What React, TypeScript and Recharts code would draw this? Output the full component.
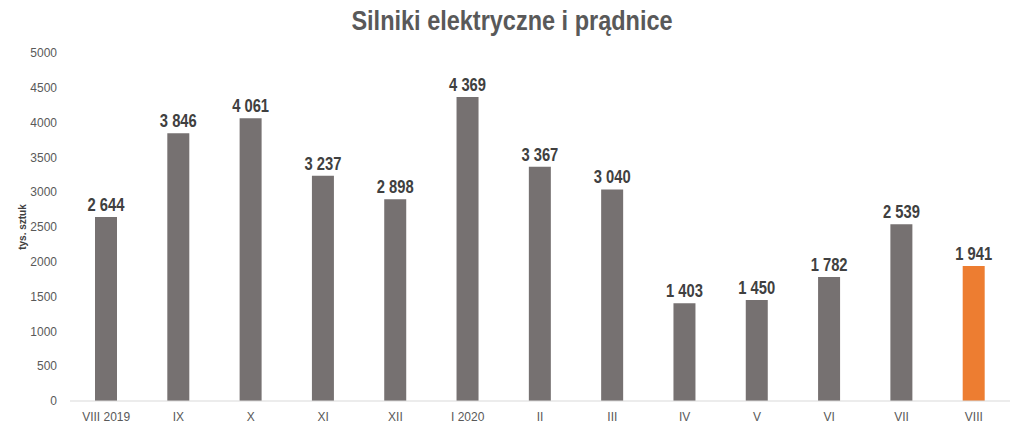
import { BarChart, Bar, XAxis, YAxis, Cell, LabelList } from 'recharts'

const months = ['VIII 2019', 'IX', 'X', 'XI', 'XII', 'I 2020', 'II', 'III', 'IV', 'V', 'VI', 'VII', 'VIII']
const output = [2644, 3846, 4061, 3237, 2898, 4369, 3367, 3040, 1403, 1450, 1782, 2539, 1941]
const yTicks = [0, 500, 1000, 1500, 2000, 2500, 3000, 3500, 4000, 4500, 5000]

const FONT = '"Liberation Sans", Arial, sans-serif'

const data = months.map((m, i) => ({ month: m, value: output[i], current: i === months.length - 1 }))

const fmt = (v: number) => v.toString().replace(/\B(?=(\d{3})+(?!\d))/g, ' ')

// narrow bold value above each bar (the original uses a condensed face)
function ValueLabel(props: any) {
  const { x, y, width, value } = props
  const cx = x + width / 2
  const by = y - 6
  return (
    <text
      transform={`translate(${cx},${by}) scale(0.82,1)`}
      textAnchor="middle"
      fill="#404040"
      fontSize={18}
      fontWeight="bold"
      fontFamily={FONT}
    >
      {fmt(value)}
    </text>
  )
}

export default function App() {
  return (
    <div style={{ position: 'absolute', left: 0, top: 0, width: 1024, height: 432, background: '#fff', fontFamily: FONT }}>
      <div
        style={{
          position: 'absolute', top: 6, left: 0, width: 1024, textAlign: 'center',
          fontSize: 27, fontWeight: 'bold', color: '#595959', fontFamily: FONT,
          transform: 'scaleX(0.87)', transformOrigin: '512px 0',
        }}
      >
        Silniki elektryczne i prądnice
      </div>
      <BarChart
        width={1024}
        height={432}
        data={data}
        margin={{ top: 53, right: 14, bottom: 1, left: 0 }}
        barCategoryGap={0}
      >
        <XAxis
          dataKey="month"
          interval={0}
          height={30}
          tickLine={false}
          axisLine={{ stroke: '#d9d9d9' }}
          tick={{ fill: '#595959', fontSize: 12, fontFamily: FONT }}
          tickMargin={5}
        />
        <YAxis
          domain={[0, 5000]}
          ticks={yTicks}
          width={70}
          axisLine={false}
          tickLine={false}
          tickMargin={7}
          tick={{ fill: '#595959', fontSize: 12, fontFamily: FONT }}
          label={{
            value: 'tys. sztuk', angle: -90, position: 'insideLeft', offset: 22,
            style: { fill: '#404040', fontSize: 10, fontWeight: 'bold', fontFamily: FONT, textAnchor: 'middle' },
          }}
        />
        <Bar dataKey="value" barSize={22} isAnimationActive={false}>
          {data.map((d, i) => (
            <Cell key={i} fill={d.current ? '#ED7D31' : '#767171'} />
          ))}
          <LabelList dataKey="value" content={<ValueLabel />} />
        </Bar>
      </BarChart>
    </div>
  )
}
